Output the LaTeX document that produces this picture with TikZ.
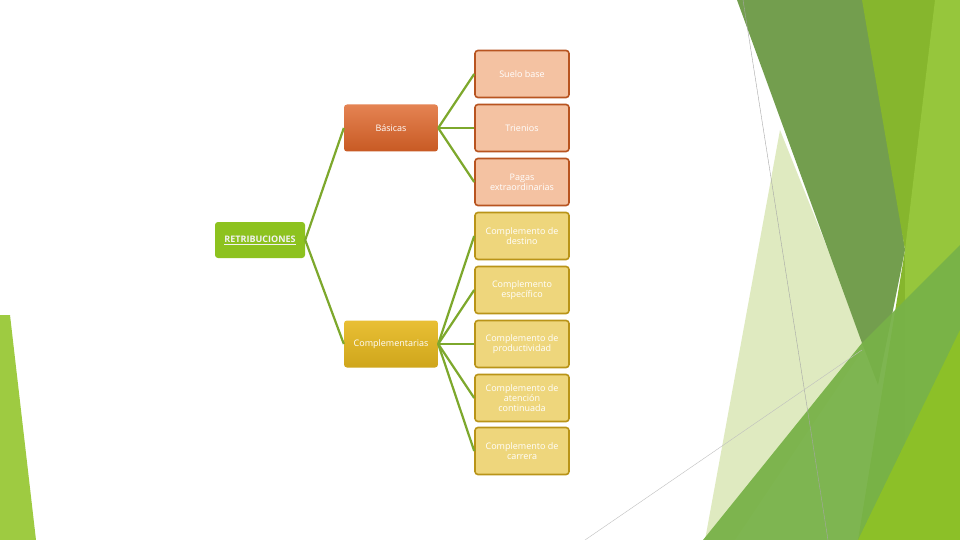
\documentclass[tikz,border=0pt]{standalone}
\usepackage{fontspec}
\setmainfont{Open Sans}
\definecolor{conn}{HTML}{7DA82C}
\definecolor{root}{HTML}{8DC21F}
\definecolor{bas}{HTML}{DE6428}
\definecolor{comp}{HTML}{E6B81E}
\definecolor{salm}{HTML}{F4C2A2}
\definecolor{salmb}{HTML}{B85420}
\definecolor{yel}{HTML}{EED67C}
\definecolor{yelb}{HTML}{B99418}
\begin{document}
\begin{tikzpicture}[x=1pt,y=-1pt,
  box/.style={rounded corners=3pt,minimum width=94pt,minimum height=47pt,align=center,text=white,font=\fontsize{9}{10}\selectfont,inner sep=1pt},
  sbox/.style={box,fill=salm,draw=salmb,line width=1.6pt},
  ybox/.style={box,fill=yel,draw=yelb,line width=1.6pt},
  link/.style={conn,line width=2.2pt}]
\useasboundingbox (0,0) rectangle (960,540);
\fill[white] (0,0) rectangle (960,540);
% background
\fill[root!85!white] (0,315) -- (10,315) -- (36,540) -- (0,540) -- cycle;
\fill[color={rgb,255:red,223;green,234;blue,192}] (780,130) -- (866,345) -- (735,540) -- (705,540) -- cycle;
\fill[color={rgb,255:red,115;green,158;blue,78}] (737,0) -- (868,0) -- (905,250) -- (878,385) -- (862,343) -- cycle;
\fill[color={rgb,255:red,134;green,182;blue,45}] (862,0) -- (960,0) -- (960,540) -- (858,540) -- (905,250) -- cycle;
\fill[color={rgb,255:red,150;green,198;blue,60}] (935,0) -- (960,0) -- (960,540) -- (905,540) -- (905,250) -- cycle;
\fill[color={rgb,255:red,120;green,178;blue,72},opacity=0.95] (703,540) -- (862,343) -- (960,245) -- (960,540) -- cycle;
\fill[color={rgb,255:red,140;green,192;blue,40}] (858,540) -- (960,330) -- (960,540) -- cycle;
\draw[gray!70,line width=0.4pt] (743,0) -- (828,540);
\draw[gray!50,line width=0.4pt] (585,540) -- (862,350);
% nodes
\node[box,fill=root,minimum width=90pt,minimum height=36pt,text=white!95!black] (r) at (260,240) {\underline{\textbf{RETRIBUCIONES}}};
\node[box,top color=bas!80!white,bottom color=bas!90!black] (b) at (391,128) {Básicas};
\node[box,top color=comp!90!white,bottom color=comp!90!black] (c) at (391,344) {Complementarias};
\node[sbox] (s1) at (522,74) {Suelo base};
\node[sbox] (s2) at (522,128) {Trienios};
\node[sbox] (s3) at (522,182) {Pagas\\extraordinarias};
\node[ybox] (y1) at (522,236) {Complemento de\\destino};
\node[ybox] (y2) at (522,290) {Complemento\\específico};
\node[ybox] (y3) at (522,344) {Complemento de\\productividad};
\node[ybox] (y4) at (522,398) {Complemento de\\atención\\continuada};
\node[ybox] (y5) at (522,451) {Complemento de\\carrera};
% connectors
\foreach \t in {b,c} \draw[link] (r.east) -- (\t.west);
\foreach \t in {s1,s2,s3} \draw[link] (b.east) -- (\t.west);
\foreach \t in {y1,y2,y3,y4,y5} \draw[link] (c.east) -- (\t.west);
\end{tikzpicture}
\end{document}
